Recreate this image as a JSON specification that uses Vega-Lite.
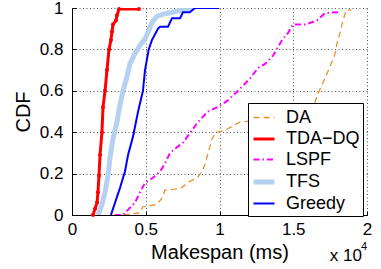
{
  "$schema": "https://vega.github.io/schema/vega-lite/v6.json",
  "width": 295,
  "height": 207,
  "autosize": {"type": "none"},
  "padding": {"left": 72, "top": 8, "right": 14, "bottom": 54},
  "config": {
    "view": {"stroke": null},
    "font": "Liberation Sans",
    "axis": {
      "labelFont": "Liberation Sans",
      "titleFont": "Liberation Sans",
      "labelFontSize": 17,
      "titleFontSize": 20,
      "titleFontWeight": "normal",
      "labelColor": "black",
      "titleColor": "black",
      "domainColor": "black",
      "domainWidth": 1,
      "tickColor": "black",
      "gridColor": "#555555",
      "gridDash": [1, 2.5],
      "gridOpacity": 1,
      "gridWidth": 1
    },
    "legend": {
      "labelFont": "Liberation Sans",
      "labelFontSize": 18,
      "labelColor": "black"
    }
  },
  "data": {
    "values": [
      {"series": "DA", "x": 3500, "y": 0},
      {"series": "DA", "x": 4600, "y": 0.01},
      {"series": "DA", "x": 4800, "y": 0.04},
      {"series": "DA", "x": 5700, "y": 0.05},
      {"series": "DA", "x": 6100, "y": 0.08},
      {"series": "DA", "x": 6300, "y": 0.12},
      {"series": "DA", "x": 7000, "y": 0.125},
      {"series": "DA", "x": 7500, "y": 0.135},
      {"series": "DA", "x": 7900, "y": 0.16},
      {"series": "DA", "x": 8500, "y": 0.18},
      {"series": "DA", "x": 8800, "y": 0.21},
      {"series": "DA", "x": 9000, "y": 0.24},
      {"series": "DA", "x": 9150, "y": 0.28},
      {"series": "DA", "x": 9350, "y": 0.33},
      {"series": "DA", "x": 9500, "y": 0.37},
      {"series": "DA", "x": 9800, "y": 0.40},
      {"series": "DA", "x": 10400, "y": 0.41},
      {"series": "DA", "x": 10900, "y": 0.43},
      {"series": "DA", "x": 11400, "y": 0.45},
      {"series": "DA", "x": 16000, "y": 0.47},
      {"series": "DA", "x": 16500, "y": 0.55},
      {"series": "DA", "x": 16700, "y": 0.59},
      {"series": "DA", "x": 17150, "y": 0.66},
      {"series": "DA", "x": 17500, "y": 0.72},
      {"series": "DA", "x": 17800, "y": 0.77},
      {"series": "DA", "x": 17970, "y": 0.83},
      {"series": "DA", "x": 18170, "y": 0.88},
      {"series": "DA", "x": 18370, "y": 0.94},
      {"series": "DA", "x": 18600, "y": 0.99},
      {"series": "DA", "x": 18950, "y": 0.99},

      {"series": "TDA−DQ", "x": 1420, "y": 0},
      {"series": "TDA−DQ", "x": 1560, "y": 0.03},
      {"series": "TDA−DQ", "x": 1700, "y": 0.06},
      {"series": "TDA−DQ", "x": 1760, "y": 0.11},
      {"series": "TDA−DQ", "x": 1830, "y": 0.19},
      {"series": "TDA−DQ", "x": 1900, "y": 0.29},
      {"series": "TDA−DQ", "x": 2030, "y": 0.40},
      {"series": "TDA−DQ", "x": 2100, "y": 0.52},
      {"series": "TDA−DQ", "x": 2240, "y": 0.60},
      {"series": "TDA−DQ", "x": 2370, "y": 0.70},
      {"series": "TDA−DQ", "x": 2510, "y": 0.80},
      {"series": "TDA−DQ", "x": 2640, "y": 0.845},
      {"series": "TDA−DQ", "x": 2710, "y": 0.885},
      {"series": "TDA−DQ", "x": 2780, "y": 0.92},
      {"series": "TDA−DQ", "x": 2980, "y": 0.94},
      {"series": "TDA−DQ", "x": 3050, "y": 0.965},
      {"series": "TDA−DQ", "x": 3190, "y": 0.995},
      {"series": "TDA−DQ", "x": 4540, "y": 0.995},

      {"series": "LSPF", "x": 2900, "y": 0},
      {"series": "LSPF", "x": 3460, "y": 0},
      {"series": "LSPF", "x": 3730, "y": 0.02},
      {"series": "LSPF", "x": 4270, "y": 0.06},
      {"series": "LSPF", "x": 4610, "y": 0.11},
      {"series": "LSPF", "x": 4950, "y": 0.155},
      {"series": "LSPF", "x": 5490, "y": 0.18},
      {"series": "LSPF", "x": 5970, "y": 0.21},
      {"series": "LSPF", "x": 6310, "y": 0.25},
      {"series": "LSPF", "x": 6650, "y": 0.30},
      {"series": "LSPF", "x": 6990, "y": 0.32},
      {"series": "LSPF", "x": 7530, "y": 0.35},
      {"series": "LSPF", "x": 7940, "y": 0.39},
      {"series": "LSPF", "x": 8340, "y": 0.43},
      {"series": "LSPF", "x": 8680, "y": 0.46},
      {"series": "LSPF", "x": 9220, "y": 0.50},
      {"series": "LSPF", "x": 9830, "y": 0.52},
      {"series": "LSPF", "x": 10500, "y": 0.55},
      {"series": "LSPF", "x": 11260, "y": 0.60},
      {"series": "LSPF", "x": 12070, "y": 0.66},
      {"series": "LSPF", "x": 12610, "y": 0.71},
      {"series": "LSPF", "x": 13090, "y": 0.73},
      {"series": "LSPF", "x": 13630, "y": 0.77},
      {"series": "LSPF", "x": 14240, "y": 0.845},
      {"series": "LSPF", "x": 14650, "y": 0.88},
      {"series": "LSPF", "x": 14980, "y": 0.92},
      {"series": "LSPF", "x": 15800, "y": 0.92},
      {"series": "LSPF", "x": 16610, "y": 0.94},
      {"series": "LSPF", "x": 17150, "y": 0.975},
      {"series": "LSPF", "x": 18030, "y": 0.98},

      {"series": "TFS", "x": 1760, "y": 0},
      {"series": "TFS", "x": 2030, "y": 0.05},
      {"series": "TFS", "x": 2240, "y": 0.11},
      {"series": "TFS", "x": 2440, "y": 0.19},
      {"series": "TFS", "x": 2580, "y": 0.28},
      {"series": "TFS", "x": 2780, "y": 0.37},
      {"series": "TFS", "x": 3050, "y": 0.45},
      {"series": "TFS", "x": 3220, "y": 0.52},
      {"series": "TFS", "x": 3460, "y": 0.60},
      {"series": "TFS", "x": 3730, "y": 0.67},
      {"series": "TFS", "x": 3930, "y": 0.73},
      {"series": "TFS", "x": 4270, "y": 0.78},
      {"series": "TFS", "x": 4610, "y": 0.82},
      {"series": "TFS", "x": 4950, "y": 0.85},
      {"series": "TFS", "x": 5200, "y": 0.89},
      {"series": "TFS", "x": 5420, "y": 0.93},
      {"series": "TFS", "x": 5760, "y": 0.96},
      {"series": "TFS", "x": 6170, "y": 0.97},
      {"series": "TFS", "x": 6850, "y": 0.98},
      {"series": "TFS", "x": 7460, "y": 0.99},
      {"series": "TFS", "x": 8140, "y": 1.0},

      {"series": "Greedy", "x": 2640, "y": 0},
      {"series": "Greedy", "x": 2920, "y": 0.06},
      {"series": "Greedy", "x": 3250, "y": 0.13},
      {"series": "Greedy", "x": 3590, "y": 0.21},
      {"series": "Greedy", "x": 3800, "y": 0.29},
      {"series": "Greedy", "x": 4140, "y": 0.38},
      {"series": "Greedy", "x": 4480, "y": 0.50},
      {"series": "Greedy", "x": 4810, "y": 0.60},
      {"series": "Greedy", "x": 4950, "y": 0.70},
      {"series": "Greedy", "x": 5200, "y": 0.80},
      {"series": "Greedy", "x": 5420, "y": 0.845},
      {"series": "Greedy", "x": 5830, "y": 0.90},
      {"series": "Greedy", "x": 5970, "y": 0.91},
      {"series": "Greedy", "x": 6510, "y": 0.91},
      {"series": "Greedy", "x": 6780, "y": 0.95},
      {"series": "Greedy", "x": 7320, "y": 0.95},
      {"series": "Greedy", "x": 7530, "y": 0.98},
      {"series": "Greedy", "x": 8000, "y": 0.98},
      {"series": "Greedy", "x": 8340, "y": 1.0},
      {"series": "Greedy", "x": 9970, "y": 1.0}
    ]
  },
  "layer": [
    {
      "mark": {"type": "line", "clip": true},
      "encoding": {
        "x": {
          "field": "x", "type": "quantitative",
          "scale": {"domain": [0, 20000], "nice": false},
          "axis": {
            "values": [0, 5000, 10000, 15000, 20000],
            "labelExpr": "format(datum.value / 10000, '~g')",
            "title": "Makespan (ms)",
            "tickSize": -4,
            "labelPadding": 10,
            "titlePadding": 5,
            "labelFlush": false
          }
        },
        "y": {
          "field": "y", "type": "quantitative",
          "scale": {"domain": [0, 1], "nice": false},
          "axis": {
            "values": [0, 0.2, 0.4, 0.6, 0.8, 1],
            "format": ".1~f",
            "title": "CDF",
            "tickSize": -4,
            "labelPadding": 13,
            "titlePadding": 6,
            "labelFlush": false
          }
        },
        "order": {"value": null},
        "color": {
          "field": "series", "type": "nominal",
          "scale": {
            "domain": ["DA", "TDA−DQ", "LSPF", "TFS", "Greedy"],
            "range": ["#E8922E", "#FF0000", "#FF00FF", "#B5D0F0", "#0000FF"]
          },
          "legend": {
            "title": null,
            "orient": "none",
            "legendX": 176,
            "legendY": 95,
            "symbolType": "stroke",
            "symbolSize": 441,
            "rowPadding": 0,
            "padding": 3,
            "labelOffset": 9,
            "strokeColor": "black",
            "fillColor": "white",
            "cornerRadius": 0
          }
        },
        "strokeDash": {
          "field": "series", "type": "nominal",
          "scale": {
            "domain": ["DA", "TDA−DQ", "LSPF", "TFS", "Greedy"],
            "range": [[6, 4], [1, 0], [6, 3, 1.5, 3], [1, 0], [1, 0]]
          },
          "legend": {
            "title": null,
            "orient": "none",
            "legendX": 176,
            "legendY": 95,
            "symbolType": "stroke",
            "symbolSize": 441,
            "rowPadding": 0,
            "padding": 3,
            "labelOffset": 9,
            "strokeColor": "black",
            "fillColor": "white",
            "cornerRadius": 0
          }
        },
        "strokeWidth": {
          "field": "series", "type": "nominal",
          "scale": {
            "type": "ordinal",
            "domain": ["DA", "TDA−DQ", "LSPF", "TFS", "Greedy"],
            "range": [1.3, 3, 2, 5, 2]
          },
          "legend": {
            "title": null,
            "orient": "none",
            "legendX": 176,
            "legendY": 95,
            "symbolType": "stroke",
            "symbolSize": 441,
            "rowPadding": 0,
            "padding": 3,
            "labelOffset": 9,
            "strokeColor": "black",
            "fillColor": "white",
            "cornerRadius": 0
          }
        }
      }
    },
    {
      "transform": [{"filter": "datum.series === 'TDA−DQ'"}],
      "mark": {"type": "point", "filled": true, "shape": "circle", "size": 16, "color": "#FF0000", "opacity": 1},
      "encoding": {
        "x": {"field": "x", "type": "quantitative"},
        "y": {"field": "y", "type": "quantitative"}
      }
    },
    {
      "data": {"values": [{"t": "x 10"}]},
      "mark": {"type": "text", "align": "right", "baseline": "alphabetic", "dx": -5, "dy": 46, "fontSize": 17, "font": "Liberation Sans", "color": "black"},
      "encoding": {
        "x": {"datum": 20000, "type": "quantitative"},
        "y": {"datum": 0, "type": "quantitative"},
        "text": {"field": "t"}
      }
    },
    {
      "data": {"values": [{"t": "4"}]},
      "mark": {"type": "text", "align": "right", "baseline": "alphabetic", "dx": 0, "dy": 35, "fontSize": 11, "font": "Liberation Sans", "color": "black"},
      "encoding": {
        "x": {"datum": 20000, "type": "quantitative"},
        "y": {"datum": 0, "type": "quantitative"},
        "text": {"field": "t"}
      }
    }
  ]
}
